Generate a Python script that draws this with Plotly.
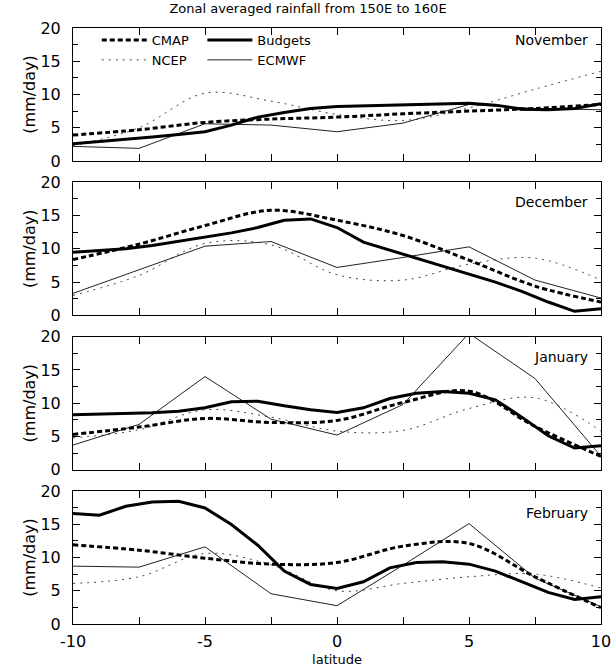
import plotly.graph_objects as go
from plotly.subplots import make_subplots

# Latitude grids: analyses on 2.5-degree points, budgets on 1-degree points
lat_coarse = [-10, -7.5, -5, -2.5, 0, 2.5, 5, 7.5, 10]
lat_fine = list(range(-10, 11))

months = ["November", "December", "January", "February"]

# November (mm/day)
nov_cmap = [3.9, 4.7, 5.8, 6.3, 6.6, 7.1, 7.5, 7.9, 8.5]
nov_ncep = [2.3, 5.0, 10.2, 9.0, 7.0, 6.1, 8.0, 10.8, 13.5]
nov_ecmwf = [2.2, 1.9, 5.6, 5.4, 4.4, 5.7, 8.5, 7.9, 7.7]
nov_budgets = [2.6, 2.9, 3.2, 3.6, 4.0, 4.4, 5.4, 6.6, 7.3, 7.9, 8.2,
               8.3, 8.4, 8.6, 8.6, 8.7, 8.4, 7.8, 7.7, 7.9, 8.6]

# December (mm/day)
dec_cmap = [8.4, 10.7, 13.5, 15.8, 14.3, 12.0, 8.3, 4.4, 2.0]
dec_ncep = [3.0, 6.0, 10.8, 10.6, 6.1, 5.3, 7.7, 8.6, 5.3]
dec_ecmwf = [3.3, 6.8, 10.4, 11.1, 7.2, 8.7, 10.3, 5.3, 2.6]
dec_budgets = [9.5, 9.7, 10.0, 10.5, 11.1, 11.7, 12.4, 13.2, 14.3, 14.5, 13.2,
               11.0, 9.8, 8.6, 7.4, 6.3, 5.0, 3.6, 2.0, 0.6, 1.0]

# January (mm/day)
jan_cmap = [5.3, 6.4, 7.7, 7.1, 7.4, 10.1, 11.8, 6.5, 2.0]
jan_ncep = [4.8, 6.0, 9.0, 7.9, 5.8, 5.9, 9.2, 10.8, 5.8]
jan_ecmwf = [3.7, 6.8, 14.0, 7.6, 5.2, 9.8, 20.5, 13.7, 2.0]
jan_budgets = [8.25, 8.35, 8.45, 8.55, 8.8, 9.3, 10.2, 10.3, 9.6, 9.0, 8.6,
               9.3, 10.7, 11.5, 11.75, 11.5, 10.5, 7.9, 5.1, 3.25, 3.6]

# February (mm/day)
feb_cmap = [11.9, 11.1, 9.9, 9.0, 9.25, 11.7, 12.1, 7.1, 2.45]
feb_ncep = [6.1, 7.1, 10.6, 8.9, 5.0, 6.1, 7.1, 7.5, 5.4]
feb_ecmwf = [8.7, 8.55, 11.6, 4.55, 2.75, 8.85, 15.1, 6.9, 2.6]
feb_budgets = [16.6, 16.35, 17.7, 18.35, 18.45, 17.45, 14.95, 11.85, 7.95, 5.95, 5.35,
               6.35, 8.45, 9.25, 9.35, 9.0, 7.95, 6.35, 4.75, 3.7, 4.1]

cmap = [nov_cmap, dec_cmap, jan_cmap, feb_cmap]
ncep = [nov_ncep, dec_ncep, jan_ncep, feb_ncep]
ecmwf = [nov_ecmwf, dec_ecmwf, jan_ecmwf, feb_ecmwf]
budgets = [nov_budgets, dec_budgets, jan_budgets, feb_budgets]

# vertical placement of each month label within its panel
month_label_y = [0.91, 0.85, 0.85, 0.835]

FONT = "DejaVu Sans"

fig = make_subplots(rows=4, cols=1, shared_xaxes=True, vertical_spacing=0.0358)

for i in range(4):
    row = i + 1
    first = i == 0
    fig.add_trace(go.Scatter(
        x=lat_coarse, y=ncep[i], mode="lines", name="NCEP",
        line=dict(color="#444444", width=1, dash="2px,5px", shape="spline", smoothing=1.0),
        showlegend=first, legend="legend", legendrank=2), row=row, col=1)
    fig.add_trace(go.Scatter(
        x=lat_coarse, y=ecmwf[i], mode="lines", name="ECMWF",
        line=dict(color="#222222", width=1),
        showlegend=first, legend="legend2", legendrank=2), row=row, col=1)
    fig.add_trace(go.Scatter(
        x=lat_coarse, y=cmap[i], mode="lines", name="CMAP",
        line=dict(color="black", width=3, dash="5px,3px", shape="spline", smoothing=1.0),
        showlegend=first, legend="legend", legendrank=1), row=row, col=1)
    fig.add_trace(go.Scatter(
        x=lat_fine, y=budgets[i], mode="lines", name="Budgets",
        line=dict(color="black", width=3),
        showlegend=first, legend="legend2", legendrank=1), row=row, col=1)

    fig.update_yaxes(
        range=[0, 20], tickvals=[0, 5, 10, 15, 20], ticks="inside", ticklen=7,
        minor=dict(dtick=2.5, ticks="inside", ticklen=5, tickcolor="black"),
        showline=True, linecolor="black", linewidth=1, mirror="ticks",
        showgrid=False, zeroline=False, tickcolor="black", ticklabelstandoff=8,
        tickfont=dict(family=FONT, size=16, color="black"),
        title=dict(text="(mm/day)", font=dict(family=FONT, size=16, color="black"), standoff=0),
        row=row, col=1)
    fig.update_xaxes(
        range=[-10, 10], tickvals=lat_coarse,
        ticktext=["-10", "", "-5", "", "0", "", "5", "", "10"],
        ticks="inside", ticklen=7, tickcolor="black", ticklabeloverflow="allow",
        showline=True, linecolor="black", linewidth=1, mirror="ticks",
        showgrid=False, zeroline=False, ticklabelstandoff=3,
        tickfont=dict(family=FONT, size=16, color="black"),
        row=row, col=1)

    yref = "y domain" if i == 0 else f"y{i + 1} domain"
    xref = "x domain" if i == 0 else f"x{i + 1} domain"
    fig.add_annotation(text=months[i], x=0.98, y=month_label_y[i], xref=xref, yref=yref,
                       xanchor="right", yanchor="middle", showarrow=False,
                       font=dict(family=FONT, size=14, color="black"))

fig.update_xaxes(title=dict(text="latitude", font=dict(family=FONT, size=13, color="black"),
                            standoff=4), row=4, col=1)

legend_style = dict(yanchor="top", xanchor="left", bgcolor="rgba(0,0,0,0)",
                    font=dict(family=FONT, size=13, color="black"), tracegroupgap=0,
                    itemwidth=45, traceorder="normal", y=1.005)

fig.update_layout(
    width=616, height=669,
    margin=dict(l=73, r=5, t=28, b=45),
    paper_bgcolor="white", plot_bgcolor="white",
    font=dict(family=FONT, color="black"),
    title=dict(text="Zonal averaged rainfall from 150E to 160E", x=0.5, xanchor="center",
               y=0.987, yanchor="middle", font=dict(family=FONT, size=13, color="black")),
    legend=dict(x=0.045, **legend_style),
    legend2=dict(x=0.245, **legend_style),
)

fig.write_html("out.html")
